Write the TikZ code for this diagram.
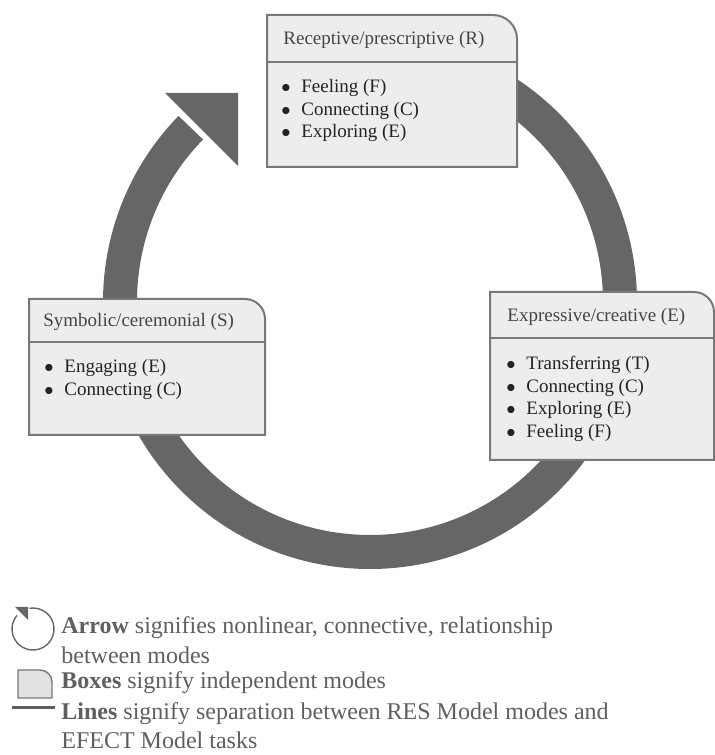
\documentclass[tikz,border=0pt]{standalone}
\usepackage{fontspec}
\setmainfont{Liberation Serif}
\usepackage{tikz}
\usetikzlibrary{calc}
\usepackage{xcolor}
\definecolor{ringgray}{RGB}{102,102,102}
\definecolor{boxfill}{RGB}{237,237,237}
\definecolor{boxline}{RGB}{120,120,120}
\definecolor{textdark}{RGB}{35,35,35}
\definecolor{legendtext}{RGB}{95,95,95}
\newcommand{\blt}{\makebox[10pt][l]{$\bullet$}}

\begin{document}
\begin{tikzpicture}[
        x=0.5pt, y=0.5pt,
        ring/.style={draw=ringgray, line width=17pt},
        head/.style={fill=ringgray},
        modebox/.style={draw=boxline, fill=boxfill, line width=1pt},
        divider/.style={draw=boxline, line width=1pt},
        title/.style={anchor=west, inner sep=0pt, font=\fontsize{9.5}{11}\selectfont, text=textdark!85!white},
        item/.style={anchor=west, inner sep=0pt, font=\fontsize{9.5}{11}\selectfont, text=textdark},
        legend/.style={anchor=west, inner sep=0pt, align=left, font=\fontsize{12}{14.7}\selectfont, text=legendtext}
    ]
        \useasboundingbox (0,0) rectangle (715,755);
        % big circular arrow
        \coordinate (hub) at (370,453);
        \draw[ring] (hub) ++(135.8:250) arc[start angle=135.8, end angle=460, radius=250];
        \fill[head] (165,662) -- (238,662) -- (238,589) -- cycle;
        % receptive box
        \draw[modebox] (267,588) -- (267,740) -- (493,740) arc[start angle=90, end angle=0, radius=24] -- (517,588) -- cycle;
        \draw[divider] (267,693) -- (517,693);
        \node[title] (recep) at (283,715) {Receptive/prescriptive (R)};
        \foreach \txt [count=\i] in {{Feeling (F)}, {Connecting (C)}, {Exploring (E)}}
            \node[item] (recep-\i) at (281,689.5-22.5*\i) {\blt\txt};
        % symbolic box
        \draw[modebox] (29,320) -- (29,456) -- (245,456) arc[start angle=90, end angle=0, radius=20] -- (265,320) -- cycle;
        \draw[divider] (29,413) -- (265,413);
        \node[title] (symb) at (43,433) {Symbolic/ceremonial (S)};
        \foreach \txt [count=\i] in {{Engaging (E)}, {Connecting (C)}}
            \node[item] (symb-\i) at (44,409.5-22.5*\i) {\blt\txt};
        % expressive box
        \draw[modebox] (490,295) -- (490,463) -- (694,463) arc[start angle=90, end angle=0, radius=20] -- (714,295) -- cycle;
        \draw[divider] (490,417) -- (714,417);
        \node[title] (expr) at (507,438) {Expressive/creative (E)};
        \foreach \txt [count=\i] in {{Transferring (T)}, {Connecting (C)}, {Exploring (E)}, {Feeling (F)}}
            \node[item] (expr-\i) at (506,412.5-22.5*\i) {\blt\txt};
        % legend
        \draw[ringgray, line width=0.7pt] (33,126) ++(140:21) arc[start angle=140, end angle=460, radius=21];
        \fill[head] (15,148) -- (28,148) -- (28,135) -- cycle;
        \draw[modebox, line width=0.7pt, fill=boxfill!90!gray] (18,57) -- (18,85) -- (40,85) arc[start angle=90, end angle=0, radius=12] -- (52,57) -- cycle;
        \draw[legendtext, line width=1.5pt] (12,47) -- (55,47);
        \node[legend] (keyarrow) at (61,115) {\textbf{Arrow} signifies nonlinear, connective, relationship\\between modes};
        \node[legend] (keybox) at (61,72) {\textbf{Boxes} signify independent modes};
        \node[legend] (keyline) at (61,29.5) {\textbf{Lines} signify separation between RES Model modes and\\EFECT Model tasks};
\end{tikzpicture}
\end{document}
